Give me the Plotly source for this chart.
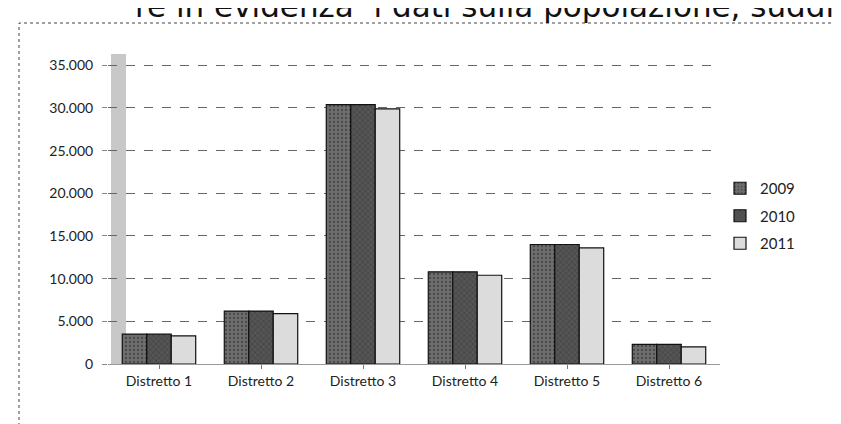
import plotly.graph_objects as go

categories = ["Distretto 1", "Distretto 2", "Distretto 3", "Distretto 4", "Distretto 5", "Distretto 6"]
years = ["2009", "2010", "2011"]
values_2009 = [3500, 6200, 30400, 10800, 14000, 2300]
values_2010 = [3500, 6200, 30400, 10800, 14000, 2300]
values_2011 = [3300, 5900, 29900, 10400, 13600, 2000]
series = [values_2009, values_2010, values_2011]
colors = ["#6e6e6e", "#555555", "#dcdcdc"]
patterns = [".", "x", ""]
y_ticks = [0, 5000, 10000, 15000, 20000, 25000, 30000, 35000]

W, H = 841, 424
L, R, T, B = 100, 129, 56, 68
pw, ph = W - L - R, H - T - B

def px_x(p):
    return (p - L) / pw

def px_y(p):
    return (H - B - p) / ph

fig = go.Figure()
for name, vals, col, pat in zip(years, series, colors, patterns):
    fig.add_trace(go.Bar(
        x=categories, y=vals, name=name, legendgroup=name,
        marker=dict(color=col, line=dict(color="#111111", width=1.2),
                    pattern=dict(shape=pat, fgcolor="#222222", size=4, solidity=0.25)),
    ))

fig.update_layout(
    width=W, height=H,
    margin=dict(l=L, r=R, t=T, b=B),
    paper_bgcolor="white", plot_bgcolor="white",
    separators=",.",
    barmode="group", bargap=0.28, bargroupgap=0,
    font=dict(family="Lato, Open Sans, sans-serif", size=13, color="#222222"),
    showlegend=True,
    legend=dict(x=px_x(712), y=px_y(164), xanchor="left", yanchor="top",
                font=dict(size=15, color="#222222"), itemwidth=30,
                tracegroupgap=5, bgcolor="rgba(0,0,0,0)"),
    xaxis=dict(showline=True, linecolor="#999999", linewidth=1, ticks="outside",
               ticklen=4, tickcolor="#777777", tickfont=dict(size=14)),
    yaxis=dict(range=[0, 35150], tickvals=y_ticks, tickformat=",d",
               showgrid=True, gridcolor="#666666", griddash="dash", gridwidth=1,
               showline=False, ticks="outside", ticklen=5, tickcolor="#888888",
               ticklabelstandoff=6, tickfont=dict(size=14), zeroline=False),
    shapes=[
        dict(type="rect", xref="paper", yref="paper",
             x0=px_x(103), x1=px_x(118), y0=px_y(356), y1=px_y(46),
             fillcolor="#c8c8c8", line=dict(width=0), layer="below"),
        dict(type="rect", xref="paper", yref="paper",
             x0=px_x(11), x1=px_x(W + 5), y0=px_y(H + 5), y1=px_y(15),
             fillcolor="rgba(0,0,0,0)", line=dict(color="#444444", width=1, dash="dot")),
    ],
    annotations=[
        dict(text="re in evidenza  i dati sulla popolazione, suddivisi", xref="paper", yref="paper",
             x=px_x(125), y=px_y(18), xanchor="left", yanchor="bottom", showarrow=False,
             font=dict(family="DejaVu Sans", size=31, color="#111111")),
    ],
)

fig.write_html("out.html")
